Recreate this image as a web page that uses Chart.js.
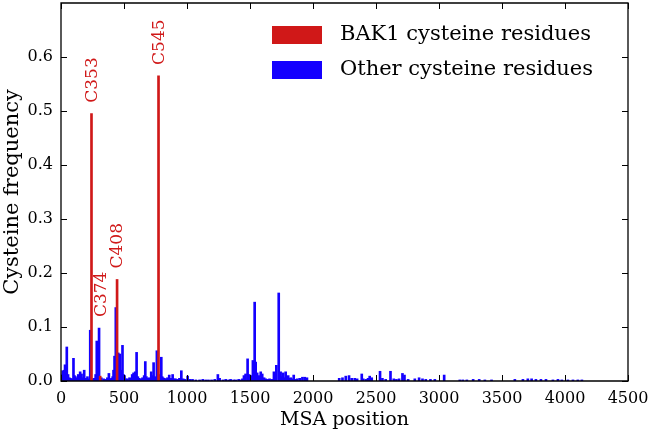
<!DOCTYPE html>
<html>
<head>
<meta charset="utf-8">
<script src="https://cdn.jsdelivr.net/npm/chart.js@4.4.1/dist/chart.umd.min.js"></script>
<style>
  html, body { margin: 0; padding: 0; background: #fff; }
</style>
</head>
<body>
<canvas id="cysChart" width="650" height="436"></canvas>
<script>
// BAK1 cysteines (red) and all other cysteine positions (blue)
var redX = [242, 311, 445, 774];
var redY = [0.495, 0.009, 0.188, 0.565];
var redLabels = ['C353', 'C374', 'C408', 'C545'];

var blueX = [5, 14, 25, 32, 46, 56, 66, 75, 90, 99, 107, 115, 128, 137, 152, 163, 175, 184, 195, 210,
  222, 232, 250, 264, 275, 284, 292, 302, 320, 338, 353, 368, 380, 392, 401, 410, 417, 425, 435, 454,
  460, 467, 477, 488, 496, 504, 515, 528, 544, 555, 565, 576, 589, 600, 610, 620, 635, 647, 660, 669,
  678, 687, 700, 716, 726, 735, 745, 761, 785, 796, 803, 810, 820, 830, 845, 859, 872, 886, 898, 909,
  925, 940, 955, 970, 985, 1005, 1025, 1044, 1070, 1100, 1125, 1148, 1170, 1195, 1220, 1245, 1259, 1285, 1307, 1330,
  1346, 1370, 1386, 1410, 1426, 1440, 1452, 1465, 1481, 1493, 1508, 1523, 1537, 1545, 1557, 1569, 1585, 1597, 1612, 1625,
  1640, 1655, 1672, 1690, 1700, 1709, 1728, 1743, 1752, 1763, 1773, 1783, 1793, 1803, 1813, 1823, 1835, 1847, 1860, 1875,
  1894, 1916, 1934, 1952, 2208, 2234, 2260, 2286, 2307, 2331, 2350, 2387, 2399, 2420, 2437, 2450, 2466, 2532, 2551, 2577,
  2615, 2641, 2662, 2683, 2710, 2726, 2755, 2808, 2842, 2869, 2895, 2932, 2967, 3041, 3165, 3189, 3221, 3271, 3319, 3364,
  3417, 3602, 3666, 3705, 3735, 3769, 3809, 3849, 3904, 3944, 3975, 4023, 4063, 4102, 4134];
var blueY = [0.012, 0.019, 0.02, 0.03, 0.063, 0.012, 0.006, 0.005, 0.004, 0.042, 0.01, 0.008, 0.005, 0.012, 0.017, 0.013, 0.006, 0.02, 0.005, 0.008,
  0.004, 0.094, 0.004, 0.005, 0.012, 0.074, 0.015, 0.098, 0.006, 0.004, 0.003, 0.006, 0.014, 0.004, 0.005, 0.008, 0.02, 0.046, 0.136, 0.052,
  0.025, 0.05, 0.02, 0.066, 0.012, 0.01, 0.004, 0.004, 0.006, 0.005, 0.012, 0.015, 0.017, 0.053, 0.008, 0.005, 0.004, 0.006, 0.01, 0.036,
  0.008, 0.005, 0.006, 0.017, 0.01, 0.034, 0.008, 0.056, 0.012, 0.044, 0.008, 0.006, 0.005, 0.004, 0.006, 0.011, 0.005, 0.012, 0.004, 0.004,
  0.003, 0.005, 0.019, 0.004, 0.003, 0.009, 0.003, 0.003, 0.002, 0.002, 0.003, 0.002, 0.002, 0.002, 0.003, 0.012, 0.005, 0.002, 0.003, 0.002,
  0.003, 0.002, 0.002, 0.003, 0.002, 0.004, 0.01, 0.013, 0.041, 0.012, 0.01, 0.038, 0.146, 0.035, 0.015, 0.01, 0.017, 0.013, 0.006, 0.004,
  0.003, 0.004, 0.003, 0.017, 0.006, 0.029, 0.163, 0.017, 0.008, 0.015, 0.006, 0.017, 0.007, 0.01, 0.005, 0.006, 0.004, 0.011, 0.003, 0.004,
  0.005, 0.007, 0.007, 0.006, 0.005, 0.006, 0.009, 0.01, 0.005, 0.005, 0.004, 0.013, 0.004, 0.003, 0.005, 0.009, 0.006, 0.018, 0.005, 0.003,
  0.018, 0.004, 0.003, 0.004, 0.014, 0.011, 0.003, 0.004, 0.006, 0.004, 0.003, 0.003, 0.003, 0.011, 0.002, 0.002, 0.002, 0.003, 0.003, 0.002,
  0.002, 0.003, 0.003, 0.004, 0.004, 0.003, 0.003, 0.003, 0.002, 0.003, 0.002, 0.002, 0.002, 0.002, 0.002];

var xTicks = [0, 500, 1000, 1500, 2000, 2500, 3000, 3500, 4000, 4500];
var yTicks = [0, 0.1, 0.2, 0.3, 0.4, 0.5, 0.6];

var RED = '#d01818';
var BLUE = '#1400ff';
var SERIF = "'DejaVu Serif', serif";

function toPoints(xs, ys) {
  return xs.map(function (x, i) { return { x: x, y: ys[i] }; });
}

// drop the extra room Chart.js keeps for overhanging tick labels
function noOverhang(s) {
  s.paddingTop = 0; s.paddingBottom = 0; s.paddingLeft = 0; s.paddingRight = 0;
}

// box, inward ticks, labels on the red bars and the legend
var decorPlugin = {
  id: 'decor',
  afterDraw: function (chart) {
    var ctx = chart.ctx;
    var a = chart.chartArea;
    var xs = chart.scales.x, ys = chart.scales.y;
    var tick = 6;

    ctx.save();
    ctx.strokeStyle = '#000000';
    ctx.lineWidth = 1;
    ctx.beginPath();
    xTicks.forEach(function (v) {
      var px = Math.round(xs.getPixelForValue(v)) + 0.5;
      ctx.moveTo(px, a.bottom); ctx.lineTo(px, a.bottom - tick);
      ctx.moveTo(px, a.top); ctx.lineTo(px, a.top + tick);
    });
    yTicks.forEach(function (v) {
      var py = Math.round(ys.getPixelForValue(v)) + 0.5;
      ctx.moveTo(a.left, py); ctx.lineTo(a.left + tick, py);
      ctx.moveTo(a.right, py); ctx.lineTo(a.right - tick, py);
    });
    ctx.stroke();
    ctx.lineWidth = 1.3;
    ctx.beginPath();
    ctx.rect(a.left, a.top, a.right - a.left, a.bottom - a.top);
    ctx.stroke();

    // rotated labels above BAK1 bars
    ctx.fillStyle = RED;
    ctx.font = '17px ' + SERIF;
    ctx.textAlign = 'left';
    ctx.textBaseline = 'middle';
    redX.forEach(function (x, i) {
      var top = redY[i];
      blueX.forEach(function (bx, j) {
        if (Math.abs(bx - x) <= 12 && blueY[j] > top) top = blueY[j];
      });
      var px = xs.getPixelForValue(x) + 1;
      var py = ys.getPixelForValue(top) - 11;
      ctx.save();
      ctx.translate(px, py);
      ctx.rotate(-Math.PI / 2);
      ctx.fillText(redLabels[i], 0, 0);
      ctx.restore();
    });

    // legend
    var lx = a.right - 356;
    var rows = [
      { label: chart.data.datasets[0].label, color: RED, cy: 35 },
      { label: chart.data.datasets[1].label, color: BLUE, cy: 70 }
    ];
    ctx.font = '21px ' + SERIF;
    rows.forEach(function (r) {
      ctx.fillStyle = r.color;
      ctx.fillRect(lx, r.cy - 9, 50, 18);
      ctx.fillStyle = '#000';
      ctx.fillText(r.label, lx + 68, r.cy);
    });
    ctx.restore();
  }
};

var ctx = document.getElementById('cysChart').getContext('2d');
var cysChart = new Chart(ctx, {
  type: 'bar',
  data: {
    datasets: [{
      label: 'BAK1 cysteine residues',
      data: toPoints(redX, redY),
      backgroundColor: RED,
      barThickness: 2,
      grouped: false
    }, {
      label: 'Other cysteine residues',
      data: toPoints(blueX, blueY),
      backgroundColor: BLUE,
      barThickness: 2,
      grouped: false
    }]
  },
  options: {
    responsive: false,
    animation: false,
    devicePixelRatio: 1,
    layout: { padding: { top: 3, right: 22, left: 0, bottom: 0 } },
    plugins: {
      legend: { display: false },
      tooltip: { enabled: false }
    },
    scales: {
      x: {
        type: 'linear',
        min: 0,
        max: 4500,
        offset: false,
        afterBuildTicks: function (s) { s.ticks = xTicks.map(function (v) { return { value: v }; }); },
        afterFit: function (s) { s.height = 55; noOverhang(s); },
        grid: { display: false, drawTicks: false, offset: false },
        border: { display: false },
        ticks: {
          color: '#000',
          padding: 8,
          maxRotation: 0,
          font: { family: SERIF, size: 16 },
          callback: function (v) { return String(v); }
        },
        title: {
          display: true,
          text: 'MSA position',
          color: '#000',
          padding: { top: 0, bottom: 5 },
          font: { family: SERIF, size: 19 }
        }
      },
      y: {
        min: 0,
        max: 0.7,
        afterBuildTicks: function (s) { s.ticks = yTicks.map(function (v) { return { value: v }; }); },
        afterFit: function (s) { s.width = 61; noOverhang(s); },
        grid: { display: false, drawTicks: false },
        border: { display: false },
        ticks: {
          color: '#000',
          padding: 8,
          font: { family: SERIF, size: 16 },
          callback: function (v) { return v.toFixed(1); }
        },
        title: {
          display: true,
          text: 'Cysteine frequency',
          color: '#000',
          padding: 0,
          font: { family: SERIF, size: 21 }
        }
      }
    }
  },
  plugins: [decorPlugin]
});
</script>
</body>
</html>
